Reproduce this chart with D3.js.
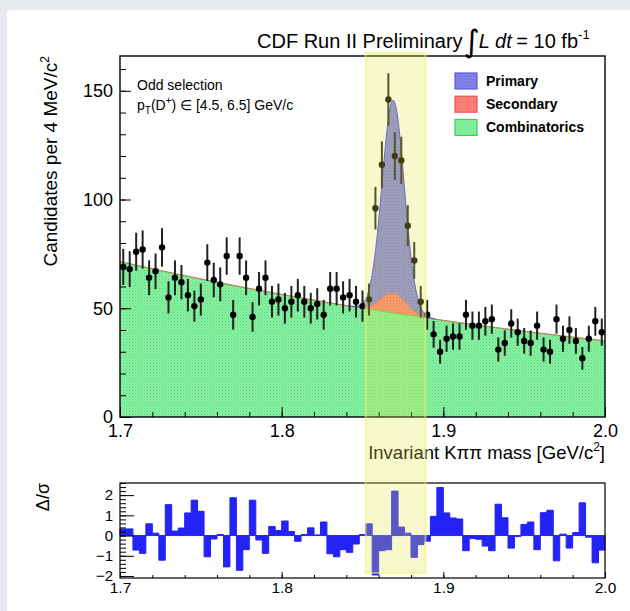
<!DOCTYPE html>
<html>
<head>
<meta charset="utf-8">
<script src="https://cdn.jsdelivr.net/npm/d3@7"></script>
<style>
  body { margin: 0; background: #e6e9ee; }
  text { font-family: "Liberation Sans", Arial, Helvetica, sans-serif; }
</style>
</head>
<body>
<svg id="chart" width="630" height="611"></svg>
<script>
// binning of the Kpipi mass histogram
var massRange = [1.7, 2.0],
    binWidth = 0.004;

// candidates per 4 MeV bin
var counts = [69, 68, 76, 77, 64, 67, 78, 55, 64, 62,
              56, 51, 54, 71, 63, 61, 74, 47, 74, 64,
              46, 59, 64, 53, 54, 50, 53, 56, 53, 50,
              52, 47, 59, 59, 55, 56, 53, 51, 54, 96,
              116, 146, 120, 118, 88, 72, 53, 47, 38, 30,
              36, 37, 37, 47, 42, 42, 44, 45, 31, 34,
              43, 39, 35, 34, 42, 31, 30, 45, 36, 40,
              35, 27, 36, 44, 39];

// delta / sigma per bin (lower pad)
var pulls = [0.33, 0.33, -0.72, -0.88, 0.58, 0.12, -1.22, 1.53, 0.22, 0.37,
             1.12, 1.75, 1.2, -1.05, -0.17, 0.05, -1.55, 1.87, -1.72, -0.7,
             1.75, -0.22, -0.88, 0.45, 0.25, 0.72, 0.2, -0.28, 0.05, 0.38,
             0.03, 0.67, -0.9, -1.05, -0.7, -0.83, -0.42, 0.05, 0.58, -1.95,
             -0.75, -0.7, 2.2, 0.42, 0.12, -1.08, -0.45, -0.28, 0.95, 2.38,
             1.12, 0.87, 0.82, -0.75, -0.15, -0.18, -0.52, -0.75, 1.55, 0.88,
             -0.62, -0.05, 0.55, 0.67, -0.7, 1.13, 1.25, -1.25, 0.07, -0.62,
             0.15, 1.62, -0.08, -1.35, -0.72];

// fit components
var combPars = [71.5, 2.38];               // height at 1.7, exponential slope
var primaryPars = [88.6, 1.869, 0.0068];   // height, mean, sigma
var secondaryPars = [9.2, 1.869, 0.0075];

var signalWindow = [1.852, 1.889];
var xTicks = [1.7, 1.8, 1.9, 2.0];
var yTicks = [0, 50, 100, 150];
var pullTicks = [-2, -1, 0, 1, 2];
var legendNames = ["Primary", "Secondary", "Combinatorics"];

var svg = d3.select("#chart");

// page card
svg.append("rect").attr("width", 630).attr("height", 611).attr("fill", "#e6e9ee");
svg.append("rect").attr("x", 7).attr("y", 10).attr("width", 640).attr("height", 620)
  .attr("rx", 3).attr("fill", "#fff");

var left = 120, right = 605,
    top1 = 56, bottom1 = 417,
    top2 = 483, bottom2 = 578;

var x = d3.scaleLinear().domain(massRange).range([left, right]);
var y = d3.scaleLinear().domain([0, 166]).range([bottom1, top1]);
var yp = d3.scaleLinear().domain([-2.1, 2.6]).range([bottom2, top2]);

// fill patterns
var defs = svg.append("defs");
function pattern(id, base, dot) {
  var p = defs.append("pattern").attr("id", id).attr("width", 3).attr("height", 3)
    .attr("patternUnits", "userSpaceOnUse");
  p.append("rect").attr("width", 3).attr("height", 3).attr("fill", base);
  p.append("rect").attr("width", 1).attr("height", 1).attr("fill", dot);
  p.append("rect").attr("x", 1.5).attr("y", 1.5).attr("width", 1).attr("height", 1).attr("fill", dot);
}
pattern("pGreen", "#8af3a4", "#55d479");
pattern("pRed", "#ff8a80", "#f05050");
pattern("pBlue", "#8a8ae8", "#5c5cd0");
defs.append("clipPath").attr("id", "clipTop").append("rect")
  .attr("x", left).attr("y", top1).attr("width", right - left).attr("height", bottom1 - top1);

function gauss(m, p) { return p[0] * Math.exp(-0.5 * Math.pow((m - p[1]) / p[2], 2)); }
function comb(m) { return combPars[0] * Math.exp(-combPars[1] * (m - massRange[0])); }

var grid = d3.range(massRange[0], massRange[1] + 0.00025, 0.0005);
var curve = grid.map(function (m) {
  var b = comb(m), s = gauss(m, secondaryPars), p = gauss(m, primaryPars);
  return {m: m, bg: b, sec: b + s, tot: b + s + p, prim: p};
});

var g = svg.append("g").attr("clip-path", "url(#clipTop)");

g.append("path").datum(curve)
  .attr("fill", "url(#pGreen)")
  .attr("d", d3.area().x(function (d) { return x(d.m); }).y0(y(0)).y1(function (d) { return y(d.bg); }));
g.append("path").datum(curve)
  .attr("fill", "url(#pRed)")
  .attr("d", d3.area().x(function (d) { return x(d.m); })
    .y0(function (d) { return y(d.bg); }).y1(function (d) { return y(d.sec); }));
g.append("path").datum(curve)
  .attr("fill", "url(#pBlue)")
  .attr("d", d3.area().x(function (d) { return x(d.m); })
    .y0(function (d) { return y(d.sec); }).y1(function (d) { return y(d.tot); }));

g.append("path").datum(curve).attr("fill", "none").attr("stroke", "#3ccf5c").attr("stroke-width", 1)
  .attr("d", d3.line().x(function (d) { return x(d.m); }).y(function (d) { return y(d.bg); }));
g.append("path").datum(curve).attr("fill", "none").attr("stroke", "#ee5a48").attr("stroke-width", 0.9)
  .attr("d", d3.line().x(function (d) { return x(d.m); }).y(function (d) { return y(d.sec); }));
g.append("path").datum(curve.filter(function (d) { return d.prim > 0.05; }))
  .attr("fill", "none").attr("stroke", "#3c3cff").attr("stroke-width", 1)
  .attr("d", d3.line().x(function (d) { return x(d.m); }).y(function (d) { return y(d.tot); }));

// data points with sqrt(N) errors
var pts = counts.map(function (n, i) {
  return {m: massRange[0] + (i + 0.5) * binWidth, n: n};
});
g.selectAll(".err").data(pts).enter().append("line")
  .attr("class", "err")
  .attr("x1", function (d) { return x(d.m); }).attr("x2", function (d) { return x(d.m); })
  .attr("y1", function (d) { return y(d.n - Math.sqrt(d.n)); })
  .attr("y2", function (d) { return y(d.n + Math.sqrt(d.n)); })
  .attr("stroke", "#222").attr("stroke-width", 2);
g.selectAll(".pt").data(pts).enter().append("circle")
  .attr("class", "pt")
  .attr("cx", function (d) { return x(d.m); })
  .attr("cy", function (d) { return y(d.n); })
  .attr("r", 3.2).attr("fill", "#000");

// axes of the upper pad
function styleAxis(sel, size) {
  sel.select(".domain").remove();
  sel.selectAll("line").attr("stroke", "#000");
  sel.selectAll("text").attr("fill", "#000").style("font-size", size + "px")
    .style("font-family", "'Liberation Sans', Arial, sans-serif");
}
svg.append("g").attr("transform", "translate(" + left + ",0)")
  .call(d3.axisLeft(y).tickValues(d3.range(0, 161, 10)).tickSize(-6).tickFormat(""))
  .call(styleAxis, 18);
svg.append("g").attr("transform", "translate(" + left + ",0)")
  .call(d3.axisLeft(y).tickValues(yTicks).tickSize(-11).tickPadding(7))
  .call(styleAxis, 18);
svg.append("g").attr("transform", "translate(0," + bottom1 + ")")
  .call(d3.axisBottom(x).tickValues(d3.range(1.7, 2.001, 0.02)).tickSize(-5).tickFormat(""))
  .call(styleAxis, 18);
svg.append("g").attr("transform", "translate(0," + bottom1 + ")")
  .call(d3.axisBottom(x).tickValues(xTicks).tickSize(-10).tickPadding(7).tickFormat(d3.format(".1f")))
  .call(styleAxis, 18);
svg.append("rect").attr("x", left).attr("y", top1).attr("width", right - left).attr("height", bottom1 - top1)
  .attr("fill", "none").attr("stroke", "#000").attr("stroke-width", 1.4);

// lower pad: pulls as filled step histogram
var pullSteps = pulls.map(function (v, i) { return {m: massRange[0] + i * binWidth, v: v}; });
pullSteps.push({m: massRange[1], v: pulls[pulls.length - 1]});
svg.append("path").datum(pullSteps)
  .attr("fill", "#2323f6").attr("stroke", "#2323f6").attr("stroke-width", 1)
  .attr("d", d3.area().curve(d3.curveStepAfter)
    .x(function (d) { return x(d.m); }).y0(yp(0)).y1(function (d) { return yp(d.v); }));

svg.append("g").attr("transform", "translate(" + left + ",0)")
  .call(d3.axisLeft(yp).tickValues(d3.range(-2, 2.61, 0.2)).tickSize(-6).tickFormat(""))
  .call(styleAxis, 15);
svg.append("g").attr("transform", "translate(" + left + ",0)")
  .call(d3.axisLeft(yp).tickValues(pullTicks).tickSize(-14).tickPadding(7).tickFormat(d3.format("d")))
  .call(styleAxis, 15);
svg.append("g").attr("transform", "translate(0," + bottom2 + ")")
  .call(d3.axisBottom(x).tickValues(d3.range(1.7, 2.001, 0.02)).tickSize(-3).tickFormat(""))
  .call(styleAxis, 15);
svg.append("g").attr("transform", "translate(0," + bottom2 + ")")
  .call(d3.axisBottom(x).tickValues(xTicks).tickSize(-6).tickPadding(4).tickFormat(d3.format(".1f")))
  .call(styleAxis, 15.5);
svg.append("rect").attr("x", left).attr("y", top2).attr("width", right - left).attr("height", bottom2 - top2)
  .attr("fill", "none").attr("stroke", "#000").attr("stroke-width", 1.2);

// axis titles
svg.append("text").attr("transform", "translate(57," + top1 + ") rotate(-90)")
  .attr("text-anchor", "end").style("font-size", "19px")
  .text("Candidates per 4 MeV/c").append("tspan").attr("dy", -8).style("font-size", "12px").text("2");
var xt = svg.append("text").attr("x", right).attr("y", 459).attr("text-anchor", "end").style("font-size", "18.5px");
xt.append("tspan").text("Invariant K\u03c0\u03c0 mass [GeV/c");
xt.append("tspan").attr("dy", -8).style("font-size", "12px").text("2");
xt.append("tspan").attr("dy", 8).text("]");
svg.append("text").attr("transform", "translate(49,483) rotate(-90)")
  .attr("text-anchor", "end").style("font-size", "18px").text("\u0394/\u03c3");

// title
var tt = svg.append("text").attr("x", 257).attr("y", 48).style("font-size", "20px");
tt.append("tspan").text("CDF Run II Preliminary");
tt.append("tspan").attr("dy", 4).attr("dx", 1).style("font-size", "31px")
  .style("font-family", "'DejaVu Sans', sans-serif").text("\u222b");
tt.append("tspan").attr("dy", -4).attr("dx", -1).style("font-style", "italic").text("L dt");
tt.append("tspan").attr("dx", -1).text(" = 10 fb");
tt.append("tspan").attr("dy", -9).style("font-size", "13px").text("-1");

// selection note
svg.append("text").attr("x", 137).attr("y", 90).style("font-size", "14px").text("Odd selection");
var pt = svg.append("text").attr("x", 137).attr("y", 110).style("font-size", "14px");
pt.append("tspan").text("p");
pt.append("tspan").attr("dy", 4).style("font-size", "10px").text("T");
pt.append("tspan").attr("dy", -4).text("(D");
pt.append("tspan").attr("dy", -6).style("font-size", "10px").text("+");
pt.append("tspan").attr("dy", 6).text(") \u2208 [4.5, 6.5] GeV/c");

// legend
var legFill = ["url(#pBlue)", "url(#pRed)", "url(#pGreen)"],
    legStroke = ["#5a5aee", "#f05050", "#40d060"];
var leg = svg.selectAll(".leg").data(legendNames).enter().append("g")
  .attr("class", "leg")
  .attr("transform", function (d, i) { return "translate(455," + (73 + i * 23.2) + ")"; });
leg.append("rect").attr("width", 22).attr("height", 16)
  .attr("fill", function (d, i) { return legFill[i]; })
  .attr("stroke", function (d, i) { return legStroke[i]; }).attr("stroke-width", 1.2);
leg.append("text").attr("x", 31).attr("y", 13).style("font-size", "14px").style("font-weight", "bold")
  .text(function (d) { return d; });

// signal window band on top of both pads
svg.append("rect")
  .attr("x", x(signalWindow[0])).attr("y", 53)
  .attr("width", x(signalWindow[1]) - x(signalWindow[0])).attr("height", 573 - 53)
  .attr("fill", "#e4e448").attr("fill-opacity", 0.27)
  .attr("stroke", "#f0f070").attr("stroke-opacity", 0.55).attr("stroke-width", 2);
</script>
</body>
</html>
